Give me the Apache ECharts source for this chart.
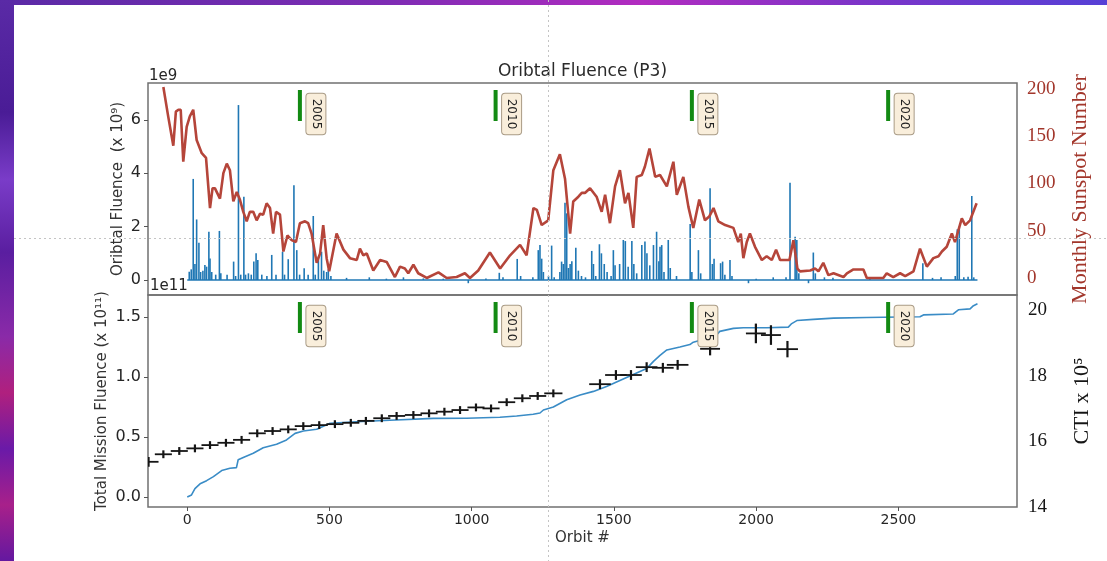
<!DOCTYPE html>
<html>
<head>
<meta charset="utf-8">
<title>Oribtal Fluence (P3)</title>
<script src="https://cdn.jsdelivr.net/npm/echarts@6/dist/echarts.min.js"></script>
<style>
  html, body { margin: 0; padding: 0; width: 1107px; height: 561px; overflow: hidden; }
  body { background: linear-gradient(90deg, #5a2aa6 0%, #7e2cb4 35%, #b22cc0 58%, #7c34c8 78%, #5640d6 100%); }
  #strip { position: absolute; left: 0; top: 0; width: 14px; height: 561px;
           background: linear-gradient(180deg, #5a2aa6 0%, #4a1c96 20%, #7a3cc8 32%, #5a1ea0 45%, #8a2aa8 60%, #b0207e 70%, #6a1aa8 80%, #a8208a 90%, #6418a0 100%); }
  #panel { position: absolute; left: 14px; top: 5px; right: 0; bottom: 0; background: #ffffff; }
  #chart { position: absolute; left: 0; top: 0; width: 1107px; height: 561px; }
</style>
</head>
<body>
<div id="strip"></div>
<div id="panel"></div>
<div id="chart"></div>
<script>
// ---- tick values ----
const orbitTicks = [0, 500, 1000, 1500, 2000, 2500];
const fluenceTicks = [0, 2, 4, 6];
const sunspotTicks = [0, 50, 100, 150, 200];
const totalTicks = [0, 0.5, 1.0, 1.5];
const ctiTicks = [14, 16, 18, 20];

// ---- calendar year markers (orbit number at start of year) ----
const yearLabels = ['2005', '2010', '2015', '2020'];
const yearOrbits = [396, 1084, 1774, 2464];

// ---- per-orbit fluence events (units of 1e9) ----
const fluenceOrbits = [7, 14, 21, 27, 33, 41, 47, 55, 62, 68, 76, 80, 86, 100, 113, 118, 140, 163, 170, 180,
  188, 199, 205, 215, 225, 234, 242, 248, 262, 280, 297, 312, 335, 342, 355, 375, 385, 395, 411, 425,
  443, 450, 461, 472, 480, 490, 496, 505, 560, 640, 700, 760, 830, 900, 988, 1050, 1097, 1110, 1160, 1172,
  1215, 1234, 1240, 1246, 1252, 1270, 1281, 1290, 1310, 1316, 1322, 1328, 1334, 1340, 1346, 1352, 1366, 1375, 1386, 1400,
  1422, 1428, 1436, 1449, 1456, 1466, 1476, 1490, 1498, 1504, 1520, 1533, 1540, 1550, 1563, 1570, 1580, 1598, 1609, 1616,
  1626, 1639, 1650, 1658, 1662, 1668, 1676, 1691, 1698, 1720, 1768, 1774, 1797, 1805, 1838, 1846, 1852, 1875, 1882, 1890,
  1908, 1915, 1973, 2000, 2060, 2105, 2119, 2137, 2143, 2150, 2184, 2201, 2208, 2240, 2270, 2400, 2586, 2620, 2650, 2700,
  2707, 2714, 2730, 2745, 2758, 2765];
const fluenceValues = [0.31, 0.4, 3.79, 0.6, 2.27, 1.4, 0.3, 0.35, 0.56, 0.5, 1.81, 0.81, 0.3, 0.2, 1.84, 0.25, 0.2, 0.69, 0.15, 6.56,
  0.2, 3.12, 0.2, 0.25, 0.2, 0.69, 1.0, 0.75, 0.2, 0.15, 0.94, 0.2, 1.06, 0.2, 0.78, 3.55, 1.12, 0.2, 0.44, 0.2,
  2.4, 0.2, 0.88, 1.06, 0.35, 0.3, 0.4, 0.15, 0.08, 0.1, 0.05, 0.1, 0.06, 0.05, -0.12, 0.06, 0.27, 0.1, 0.79, 0.15,
  0.1, 1.12, 1.31, 0.8, 0.3, 0.15, 1.29, 0.1, 0.3, 0.69, 0.6, 2.9, 2.5, 0.45, 0.6, 0.7, 1.21, 0.35, 0.15, 0.1,
  1.09, 0.6, 0.15, 1.34, 1.0, 0.6, 0.3, 0.15, 1.12, 0.55, 0.6, 1.5, 1.46, 0.5, 1.46, 0.6, 0.25, 1.31, 1.44, 1.0,
  0.55, 1.31, 1.81, 0.7, 1.25, 1.31, 0.3, 1.5, 0.45, 0.15, 2.1, 0.3, 1.12, 0.25, 3.44, 0.6, 0.8, 0.63, 0.69, 0.2,
  0.75, 0.15, -0.12, 0.05, 0.1, 0.1, 3.65, 1.62, 1.5, 0.25, -0.12, 1.03, 0.25, 0.1, 0.08, 0.05, 0.63, 0.08, 0.1, 0.15,
  1.9, 2.0, 0.1, 0.12, 3.15, 0.1];
const fluenceSpan = [0, 2778];   // first and last orbit of the fluence record

// ---- monthly sunspot number ----
const sunspotOrbits = [-84, -67, -49, -40, -31, -23, -14, -2, 9, 21, 33, 51, 66, 80, 89, 97, 115, 127, 139, 150,
  162, 174, 185, 197, 209, 220, 232, 244, 256, 267, 279, 291, 302, 312, 326, 338, 352, 367, 382, 396,
  414, 425, 437, 455, 467, 478, 490, 499, 525, 549, 572, 596, 607, 619, 631, 654, 678, 701, 730, 748,
  765, 777, 795, 812, 842, 883, 912, 947, 976, 994, 1023, 1064, 1100, 1135, 1170, 1193, 1217, 1229, 1246, 1269,
  1287, 1310, 1328, 1346, 1357, 1375, 1387, 1398, 1416, 1439, 1457, 1469, 1486, 1504, 1521, 1539, 1551, 1568, 1580, 1598,
  1609, 1625, 1645, 1662, 1686, 1709, 1721, 1744, 1762, 1779, 1800, 1820, 1835, 1850, 1867, 1891, 1920, 1937, 1946, 1955,
  1967, 1978, 1996, 2020, 2037, 2055, 2070, 2084, 2117, 2131, 2145, 2154, 2190, 2207, 2219, 2236, 2254, 2272, 2307, 2319,
  2342, 2377, 2389, 2447, 2459, 2482, 2506, 2524, 2553, 2576, 2600, 2623, 2641, 2653, 2670, 2688, 2699, 2723, 2735, 2752,
  2775];
const sunspotValues = [202, 171, 140, 176, 178, 178, 123, 160, 171, 178, 146, 132, 127, 74, 95, 95, 84, 111, 121, 114,
  81, 91, 83, 70, 60, 70, 70, 61, 68, 67, 79, 74, 47, 70, 67, 28, 45, 40, 38, 58,
  60, 58, 47, 16, 26, 56, 21, 7, 47, 30, 21, 19, 31, 24, 26, 8, 19, 17, 1, 12,
  10, 5, 14, 5, 0, 6, 0, 1, 5, 0, 8, 27, 10, 24, 35, 24, 74, 72, 56, 61,
  114, 131, 105, 47, 81, 86, 90, 90, 95, 86, 70, 88, 58, 97, 114, 79, 90, 53, 107, 109,
  118, 137, 107, 109, 97, 123, 88, 107, 75, 53, 83, 61, 65, 74, 60, 56, 53, 38, 47, 21,
  38, 47, 33, 19, 23, 19, 30, 19, 19, 40, 10, 7, 8, 10, 7, 16, 3, 5, 1, 5,
  9, 9, 0, 0, 5, 1, 5, 2, 7, 31, 12, 21, 23, 28, 33, 47, 38, 63, 56, 61,
  79];

// ---- total mission fluence (units of 1e11) ----
const totalOrbits = [0, 15, 27, 45, 68, 92, 121, 150, 173, 179, 203, 232, 267, 314, 349, 379, 408, 455, 502, 595,
  712, 865, 982, 1099, 1158, 1216, 1240, 1252, 1287, 1334, 1381, 1428, 1474, 1521, 1568, 1615, 1639, 1662, 1686, 1732,
  1767, 1779, 1826, 1861, 1872, 1920, 1955, 2037, 2113, 2125, 2143, 2201, 2272, 2389, 2506, 2576, 2588, 2693, 2711, 2752,
  2764, 2778];
const totalValues = [0, 0.017, 0.07, 0.11, 0.136, 0.17, 0.22, 0.24, 0.245, 0.31, 0.336, 0.364, 0.41, 0.44, 0.475, 0.53, 0.55, 0.564, 0.614, 0.627,
  0.64, 0.655, 0.656, 0.664, 0.675, 0.69, 0.70, 0.725, 0.75, 0.81, 0.85, 0.88, 0.92, 0.97, 1.02, 1.07, 1.13, 1.18, 1.225, 1.25,
  1.27, 1.29, 1.32, 1.35, 1.38, 1.405, 1.41, 1.41, 1.415, 1.445, 1.47, 1.48, 1.49, 1.495, 1.50, 1.502, 1.517, 1.525, 1.56, 1.567,
  1.594, 1.61];

// ---- CTI measurements (x 1e5) with orbit and CTI uncertainties ----
const ctiOrbits = [-136, -84, -28, 27, 80, 136, 191, 246, 300, 355, 408, 464, 519, 575, 628, 684, 736, 795, 850, 904,
  959, 1015, 1068, 1123, 1178, 1232, 1287, 1451, 1507, 1560, 1615, 1672, 1724, 1838, 1999, 2052, 2110];
const ctiValues = [15.38, 15.61, 15.71, 15.79, 15.89, 15.96, 16.05, 16.25, 16.32, 16.37, 16.47, 16.50, 16.53, 16.57, 16.63, 16.71, 16.78, 16.81, 16.86, 16.91,
  16.96, 17.04, 17.01, 17.20, 17.32, 17.39, 17.47, 17.75, 18.03, 18.03, 18.27, 18.25, 18.34, 18.83, 19.30, 19.25, 18.82];
const ctiOrbitErr = [35, 30, 30, 30, 30, 30, 30, 30, 30, 30, 30, 30, 30, 30, 30, 30, 30, 30, 30, 30,
  30, 30, 30, 30, 30, 30, 32, 38, 38, 38, 38, 38, 38, 35, 35, 35, 37];
const ctiErr = [0.15, 0.12, 0.12, 0.12, 0.12, 0.12, 0.12, 0.12, 0.12, 0.12, 0.12, 0.12, 0.12, 0.12, 0.12, 0.12, 0.12, 0.12, 0.12, 0.12,
  0.12, 0.12, 0.12, 0.12, 0.12, 0.12, 0.12, 0.15, 0.15, 0.15, 0.15, 0.15, 0.15, 0.2, 0.3, 0.3, 0.25];

// ---- drawing ----
const SANS = 'DejaVu Sans';
const SERIF = 'Liberation Serif';
const TEXT = '#262626';
const FRAME = '#707070';
const X_MIN = -138, X_MAX = 2917;

const chart = echarts.init(document.getElementById('chart'), null, { renderer: 'canvas' });

function yearMarker(params, api) {
  const x = api.coord([api.value(0), 0])[0];
  const top = params.coordSys.y;
  return {
    type: 'group',
    children: [
      { type: 'rect', shape: { x: x - 2, y: top + 7, width: 4, height: 31 }, style: { fill: '#138a13' } },
      {
        type: 'text', x: x + 16, y: top + 31, rotation: -Math.PI / 2,
        style: {
          text: yearLabels[params.dataIndex], fontSize: 12, fontFamily: SANS, fill: '#222',
          align: 'center', verticalAlign: 'middle',
          backgroundColor: '#f9eedb', borderColor: '#a99b86', borderWidth: 1, borderRadius: 3,
          padding: [4, 5, 3, 5]
        }
      }
    ]
  };
}

function spike(params, api) {
  const o = api.value(0), v = api.value(1);
  const p0 = api.coord([o, 0]);
  const p1 = api.coord([o, v]);
  return { type: 'line', shape: { x1: p0[0], y1: p0[1], x2: p1[0], y2: p1[1] },
           style: { stroke: '#1f77b4', lineWidth: 1.6 } };
}

function cross(params, api) {
  const x = api.value(0), y = api.value(1), dx = api.value(2), dy = api.value(3);
  const c = api.coord([x, y]);
  const l = api.coord([x - dx, y]), r = api.coord([x + dx, y]);
  const t = api.coord([x, y + dy]), b = api.coord([x, y - dy]);
  return {
    type: 'group',
    children: [
      { type: 'line', shape: { x1: l[0], y1: c[1], x2: r[0], y2: c[1] }, style: { stroke: '#151515', lineWidth: 1.8 } },
      { type: 'line', shape: { x1: c[0], y1: t[1], x2: c[0], y2: b[1] }, style: { stroke: '#151515', lineWidth: 2.2 } }
    ]
  };
}

const noLine = { show: false, onZero: false };
const leftLabel = { fontSize: 16, fontFamily: SANS, color: TEXT, margin: 7 };
const leftTick = { length: 4, lineStyle: { color: '#555', width: 1 } };

const option = {
  animation: false,
  backgroundColor: 'transparent',
  grid: [
    { left: 148, top: 83, width: 869, height: 212, show: true, borderColor: FRAME, borderWidth: 1.5, backgroundColor: 'transparent', outerBoundsMode: 'none' },
    { left: 148, top: 295, width: 869, height: 212, show: true, borderColor: FRAME, borderWidth: 1.5, backgroundColor: 'transparent', outerBoundsMode: 'none' }
  ],
  xAxis: [
    { type: 'value', gridIndex: 0, min: X_MIN, max: X_MAX, position: 'bottom', axisLine: noLine, axisTick: { show: false },
      axisLabel: { show: false }, splitLine: { show: false } },
    { type: 'value', gridIndex: 1, min: X_MIN, max: X_MAX, position: 'bottom', axisLine: noLine,
      axisTick: { show: true, customValues: orbitTicks, length: 4, lineStyle: { color: '#555' } },
      axisLabel: { customValues: orbitTicks, formatter: v => String(v), fontSize: 14, fontFamily: SANS, color: TEXT, margin: 6 },
      splitLine: { show: false },
      name: 'Orbit #', nameLocation: 'middle', nameGap: 24,
      nameTextStyle: { fontSize: 15, fontFamily: SANS, color: '#333' } }
  ],
  yAxis: [
    { type: 'value', gridIndex: 0, position: 'left', min: -0.5625, max: 7.387,
      axisLine: noLine, splitLine: { show: false },
      axisTick: Object.assign({ show: true, customValues: fluenceTicks }, leftTick),
      axisLabel: Object.assign({ customValues: fluenceTicks, formatter: v => String(v) }, leftLabel),
      name: 'Oribtal Fluence  (x 10\u2079)', nameLocation: 'middle', nameGap: 22, nameRotate: 90, nameMoveOverlap: false,
      nameTextStyle: { fontSize: 15, fontFamily: SANS, color: '#333' } },
    { type: 'value', gridIndex: 0, position: 'right', min: -18, max: 206.3,
      axisLine: noLine, splitLine: { show: false }, axisTick: { show: false },
      axisLabel: { customValues: sunspotTicks, formatter: v => String(v), fontSize: 19, fontFamily: SERIF, color: '#a2362b', margin: 10 },
      name: 'Monthly Sunspot Number', nameLocation: 'middle', nameGap: 52, nameRotate: 90, nameMoveOverlap: false,
      nameTextStyle: { fontSize: 22, fontFamily: SERIF, color: '#a2362b' } },
    { type: 'value', gridIndex: 1, position: 'left', min: -0.0833, max: 1.683,
      axisLine: noLine, splitLine: { show: false },
      axisTick: Object.assign({ show: true, customValues: totalTicks }, leftTick),
      axisLabel: Object.assign({ customValues: totalTicks, formatter: v => v.toFixed(1) }, leftLabel),
      name: 'Total Mission Fluence (x 10\u00b9\u00b9)', nameLocation: 'middle', nameGap: 38, nameRotate: 90, nameMoveOverlap: false,
      nameTextStyle: { fontSize: 15, fontFamily: SANS, color: '#333' } },
    { type: 'value', gridIndex: 1, position: 'right', min: 14, max: 20.473,
      axisLine: noLine, splitLine: { show: false }, axisTick: { show: false },
      axisLabel: { customValues: ctiTicks, formatter: v => String(v), fontSize: 19, fontFamily: SERIF, color: '#151515', margin: 11 },
      name: 'CTI x 10\u2075', nameLocation: 'middle', nameGap: 54, nameRotate: 90, nameMoveOverlap: false,
      nameTextStyle: { fontSize: 22, fontFamily: SERIF, color: '#151515' } }
  ],
  series: [
    { name: 'fluence baseline', type: 'line', xAxisIndex: 0, yAxisIndex: 0, symbol: 'none', silent: true,
      data: fluenceSpan.map(o => [o, 0]), lineStyle: { color: '#1f77b4', width: 1.5 }, z: 2 },
    { name: 'orbital fluence', type: 'custom', xAxisIndex: 0, yAxisIndex: 0, renderItem: spike,
      encode: { x: 0, y: 1 }, data: fluenceOrbits.map((o, i) => [o, fluenceValues[i]]), z: 3 },
    { name: 'sunspots', type: 'line', xAxisIndex: 0, yAxisIndex: 1, symbol: 'none',
      data: sunspotOrbits.map((o, i) => [o, sunspotValues[i]]),
      lineStyle: { color: '#b5453a', width: 2.6 }, z: 4 },
    { name: 'years top', type: 'custom', xAxisIndex: 0, yAxisIndex: 0, renderItem: yearMarker,
      encode: { x: 0 }, data: yearOrbits.map(o => [o]), z: 6 },
    { name: 'total fluence', type: 'line', xAxisIndex: 1, yAxisIndex: 2, symbol: 'none',
      data: totalOrbits.map((o, i) => [o, totalValues[i]]),
      lineStyle: { color: '#3a8cc6', width: 1.6 }, z: 3 },
    { name: 'CTI', type: 'custom', xAxisIndex: 1, yAxisIndex: 3, renderItem: cross, clip: true,
      encode: { x: 0, y: 1 },
      data: ctiOrbits.map((o, i) => [o, ctiValues[i], ctiOrbitErr[i], ctiErr[i]]), z: 5 },
    { name: 'years bottom', type: 'custom', xAxisIndex: 1, yAxisIndex: 2, renderItem: yearMarker,
      encode: { x: 0 }, data: yearOrbits.map(o => [o]), z: 6 }
  ],
  graphic: [
    { type: 'text', x: 582.5, y: 72, style: { text: 'Oribtal Fluence (P3)', fontSize: 17, fontFamily: SANS, fill: '#2a2a2a', align: 'center', verticalAlign: 'middle' } },
    { type: 'text', x: 149, y: 76, style: { text: '1e9', fontSize: 15, fontFamily: SANS, fill: TEXT, align: 'left', verticalAlign: 'middle' } },
    { type: 'text', x: 150, y: 286, style: { text: '1e11', fontSize: 15, fontFamily: SANS, fill: TEXT, align: 'left', verticalAlign: 'middle' } },
    { type: 'line', z: 50, shape: { x1: 548.5, y1: 0, x2: 548.5, y2: 561 }, style: { stroke: '#c4c4c4', lineWidth: 1, lineDash: [2, 3] } },
    { type: 'line', z: 50, shape: { x1: 14, y1: 238.5, x2: 1107, y2: 238.5 }, style: { stroke: '#c4c4c4', lineWidth: 1, lineDash: [2, 3] } }
  ]
};

chart.setOption(option);
</script>
</body>
</html>
